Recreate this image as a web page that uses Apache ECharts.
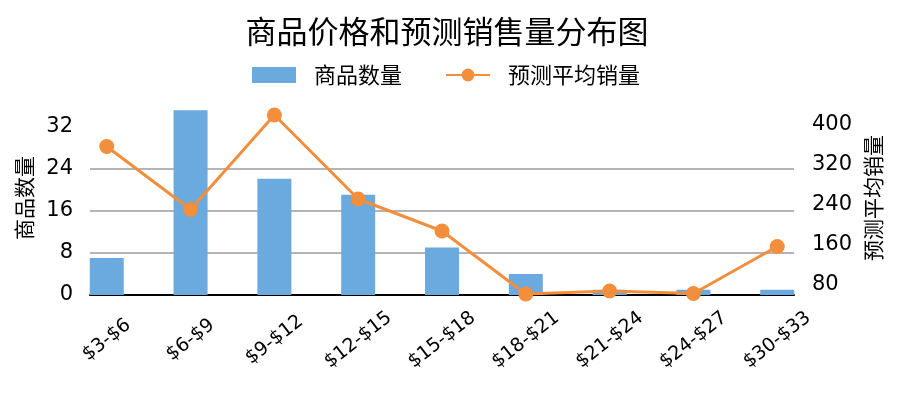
<!DOCTYPE html>
<html>
<head>
<meta charset="utf-8">
<script src="https://cdn.jsdelivr.net/npm/echarts@6/dist/echarts.min.js"></script>
<style>
  html, body { margin: 0; padding: 0; background: #fff; }
  #chart { width: 899px; height: 397px; }
</style>
</head>
<body>
<div id="chart"></div>
<script>
// 价格区间
var categories = ['$3-$6', '$6-$9', '$9-$12', '$12-$15', '$15-$18', '$18-$21', '$21-$24', '$24-$27', '$30-$33'];
// 商品数量
var countData = [7, 35, 22, 19, 9, 4, 1, 1, 1];
// 预测平均销量
var salesData = [357, 231, 420, 252, 188, 62, 68, 63, 157];
// 刻度
var leftTicks = [0, 8, 16, 24, 32];
var rightTicks = [80, 160, 240, 320, 400];

var numFont = "'DejaVu Sans', 'Noto Sans CJK SC'";
var cjkFont = "'Noto Sans CJK SC', 'DejaVu Sans'";

var chart = echarts.init(document.getElementById('chart'), null, { renderer: 'canvas' });

var idx = categories.map(function (c, i) { return i; });

var option = {
  animation: false,
  backgroundColor: '#fff',
  title: {
    text: '商品价格和预测销售量分布图',
    left: 442,
    top: 11,
    textAlign: 'center',
    textStyle: { fontFamily: cjkFont, fontSize: 31, fontWeight: 'normal', color: '#000' }
  },
  legend: {
    left: 247,
    top: 59,
    itemWidth: 44,
    itemHeight: 16,
    itemGap: 43,
    textStyle: { fontFamily: cjkFont, fontSize: 22, color: '#000', padding: [0, 0, 0, 13] },
    data: [
      { name: '商品数量', icon: 'rect' },
      { name: '预测平均销量' }
    ]
  },
  grid: {
    left: 90,
    right: 105,
    top: 101,
    bottom: 102,
    containLabel: false
  },
  xAxis: {
    type: 'value',
    min: -0.2,
    max: 8.2,
    axisLine: { show: true, onZero: false, lineStyle: { color: '#000', width: 2 } },
    axisTick: { show: false },
    splitLine: { show: false },
    axisLabel: {
      customValues: idx,
      formatter: function (v) { return categories[Math.round(v)]; },
      rotate: 38,
      align: 'center',
      verticalAlign: 'middle',
      margin: 45,
      fontFamily: numFont,
      fontSize: 19,
      color: '#000'
    }
  },
  yAxis: [
    {
      type: 'value',
      min: 0,
      max: 36.75,
      name: '商品数量',
      nameLocation: 'middle',
      nameRotate: 90,
      nameGap: 55,
      nameTextStyle: { fontFamily: cjkFont, fontSize: 21, color: '#000' },
      axisLine: { show: false },
      axisTick: { show: false, customValues: leftTicks },
      axisLabel: { customValues: leftTicks, margin: 17, fontFamily: numFont, fontSize: 21, color: '#000' },
      splitLine: { show: true, showMaxLine: false, lineStyle: { color: '#b4b4b4', width: 2 } }
    },
    {
      type: 'value',
      min: 60,
      max: 448,
      name: '预测平均销量',
      nameLocation: 'middle',
      nameRotate: 90,
      nameGap: 67,
      nameTextStyle: { fontFamily: cjkFont, fontSize: 21, color: '#000' },
      axisLine: { show: false },
      axisTick: { show: false, customValues: rightTicks },
      axisLabel: { customValues: rightTicks, margin: 18, fontFamily: numFont, fontSize: 21, color: '#000' },
      splitLine: { show: false }
    }
  ],
  series: [
    {
      name: '商品数量',
      type: 'bar',
      barWidth: 34,
      itemStyle: { color: '#6aaade' },
      data: countData.map(function (v, i) { return [i, v]; }),
      z: 2
    },
    {
      name: '预测平均销量',
      type: 'line',
      yAxisIndex: 1,
      symbol: 'circle',
      symbolSize: 15,
      lineStyle: { color: '#f28e3c', width: 3 },
      itemStyle: { color: '#f28e3c' },
      data: salesData.map(function (v, i) { return [i, v]; }),
      z: 3
    }
  ]
};

chart.setOption(option);
</script>
</body>
</html>
